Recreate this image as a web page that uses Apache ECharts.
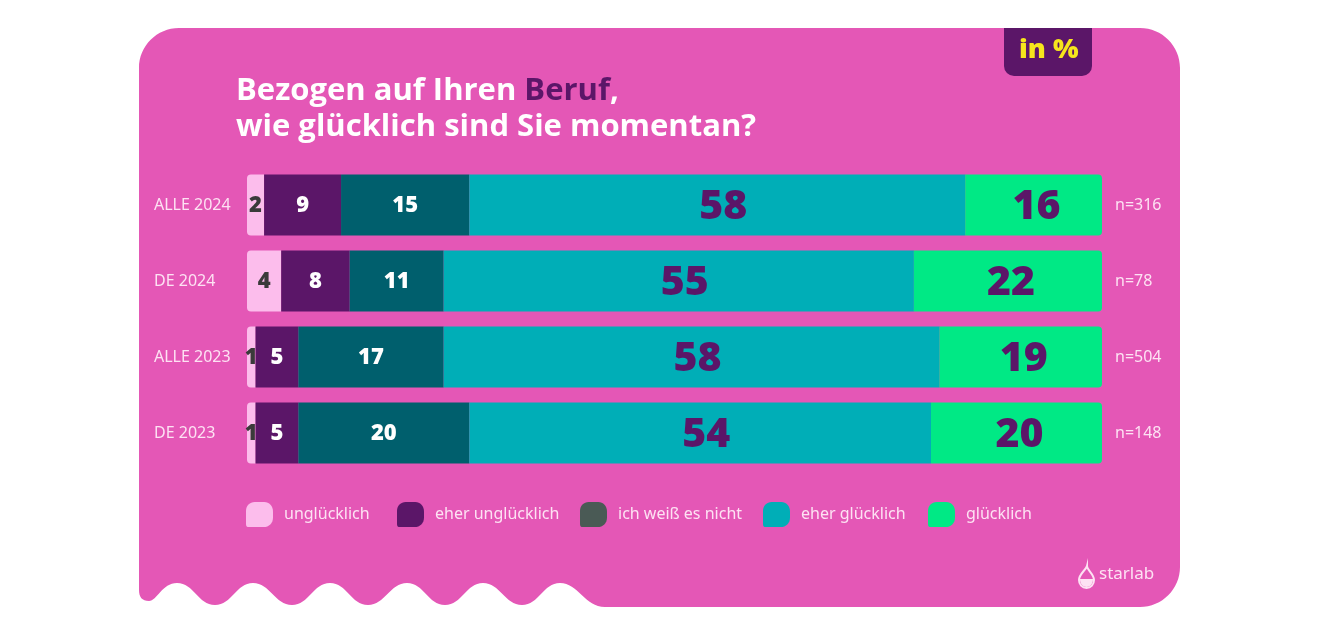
<!DOCTYPE html>
<html>
<head>
<meta charset="utf-8">
<script src="https://cdn.jsdelivr.net/npm/echarts@6/dist/echarts.min.js"></script>
<style>
html,body{margin:0;padding:0;background:#fff;}
#chart{width:1320px;height:636px;}
</style>
</head>
<body>
<div id="chart"></div>
<script>
// ---- data ----
const categories = ['ALLE 2024', 'DE 2024', 'ALLE 2023', 'DE 2023'];
const sampleSizes = ['n=316', 'n=78', 'n=504', 'n=148'];
const seriesNames = ['unglücklich', 'eher unglücklich', 'ich weiß es nicht', 'eher glücklich', 'glücklich'];
const unhappy = [2, 4, 1, 1];
const ratherUnhappy = [9, 8, 5, 5];
const dontKnow = [15, 11, 17, 20];
const ratherHappy = [58, 55, 58, 54];
const happy = [16, 22, 19, 20];

// ---- styles ----
const PINK = '#e457b6';
const PURPLE = '#5b1668';
const LIGHT = '#fde2f3';
const barColors = ['#fcbdec', '#5b1668', '#005f6d', '#00aeb7', '#00e985'];
const legendColors = ['#fcbdec', '#5b1668', '#4a5a55', '#00aeb7', '#00e985'];
const labelStyles = [
  {color: '#3a3a3a', fontSize: 22, offset: [0, 1]},
  {color: '#ffffff', fontSize: 22, offset: [0, 1]},
  {color: '#ffffff', fontSize: 22, offset: [0, 1]},
  {color: PURPLE, fontSize: 41, offset: [6, 2]},
  {color: PURPLE, fontSize: 41, offset: [3, 2]}
];
const values = [unhappy, ratherUnhappy, dontKnow, ratherHappy, happy];
const legendLefts = [246, 397, 580, 763, 928];

// card path (background shape)
function cardPath() {
  const L = 139, R = 1180, T = 28, B = 607, r = 40, k = 0.5523 * r;
  const crestY = 583, troughY = 605;
  const crests = [560, 483, 407, 330, 253, 177];
  const troughs = [522, 445, 368, 292, 215];
  let p = `M${L},${T + r} C${L},${T + r - k} ${L + r - k},${T} ${L + r},${T}`;
  p += ` L${R - r},${T} C${R - r + k},${T} ${R},${T + r - k} ${R},${T + r}`;
  p += ` L${R},${B - r} C${R},${B - r + k} ${R - r + k},${B} ${R - r},${B}`;
  p += ` L605,${B} C585,${B} 578,${crestY} ${crests[0]},${crestY}`;
  for (let i = 0; i < troughs.length; i++) {
    const c = crests[i], t = troughs[i], c2 = crests[i + 1];
    p += ` C${c - 17},${crestY} ${t + 17},${troughY} ${t},${troughY}`;
    p += ` C${t - 17},${troughY} ${c2 + 17},${crestY} ${c2},${crestY}`;
  }
  p += ` C162,${crestY} 157,601 149,601 C142,601 ${L},597 ${L},590 Z`;
  return p;
}
const dropOutline = 'M1087,566 C1087,570 1094,574 1094,580 C1094,584.5 1091,588 1086.5,588 C1082,588 1079,584.5 1079,580 C1079,574 1086,570 1087,566 Z';
const dropFill = 'M1080,579 L1093,579 C1093,584 1090,587 1086.5,587 C1083,587 1080,584 1080,579 Z';

const legendIcon = 'path://M9,0 L19,0 C24,0 28,4 28,10 L28,16 C28,22 24,26 18,26 L3,26 C1,26 0,25 0,23 L0,9 C0,4 4,0 9,0 Z';

const chart = echarts.init(document.getElementById('chart'), null, {renderer: 'canvas'});

const barSeries = seriesNames.map((name, i) => ({
  name: name,
  type: 'bar',
  stack: 'total',
  barWidth: 61,
  data: values[i],
  itemStyle: {
    color: barColors[i],
    borderRadius: i === 0 ? [4, 0, 0, 4] : (i === 4 ? [0, 4, 4, 0] : 0)
  },
  label: {
    show: true,
    position: 'inside',
    formatter: '{c}',
    offset: labelStyles[i].offset,
    fontFamily: 'Open Sans',
    fontWeight: 800,
    fontSize: labelStyles[i].fontSize,
    color: labelStyles[i].color
  },
  emphasis: {disabled: true},
  z: 5
}));

const bgSeries = {
  type: 'custom',
  name: 'bg',
  coordinateSystem: 'none',
  silent: true,
  z: 0,
  data: [0],
  renderItem: function () {
    return {
      type: 'group',
      children: [
        {type: 'path', shape: {pathData: cardPath()}, style: {fill: PINK}},
        {type: 'path', shape: {pathData: dropOutline}, style: {fill: 'none', stroke: LIGHT, lineWidth: 2}},
        {type: 'path', shape: {pathData: dropFill}, style: {fill: LIGHT}}
      ]
    };
  }
};

const legends = seriesNames.map((name, i) => ({
  left: legendLefts[i],
  top: 502,
  padding: 0,
  itemWidth: 27,
  itemHeight: 26,
  icon: legendIcon,
  selectedMode: false,
  data: [{name: name, itemStyle: {color: legendColors[i]}}],
  textStyle: {color: LIGHT, fontSize: 16, fontFamily: 'Noto Sans', padding: [0, 0, 0, 6]}
}));

const option = {
  animation: false,
  backgroundColor: '#ffffff',
  graphic: [
    {type: 'rect', z: 10, shape: {x: 1004, y: 28, width: 88, height: 48, r: [0, 0, 10, 10]}, style: {fill: PURPLE}},
    {type: 'text', z: 11, left: 1019, top: 37, style: {text: 'in %', fill: '#f6e51c', fontSize: 27, fontWeight: 800, fontFamily: 'Open Sans'}},
    {type: 'text', z: 11, left: 236, top: 76, style: {
      text: '{w|Bezogen auf Ihren }{p|Beruf}{w|,}\n{w|wie glücklich sind Sie momentan?}',
      rich: {
        w: {fill: '#ffffff', fontSize: 31, fontWeight: 'bold', fontFamily: 'Open Sans', lineHeight: 36},
        p: {fill: PURPLE, fontSize: 31, fontWeight: 'bold', fontFamily: 'Open Sans', lineHeight: 36}
      }
    }},
    {type: 'text', z: 11, left: 1099, top: 566, style: {text: 'starlab', fill: LIGHT, fontSize: 17, fontFamily: 'Noto Sans'}}
  ],
  legend: legends,
  grid: {left: 247, right: 218, top: 167, height: 304, containLabel: false},
  xAxis: {type: 'value', min: 0, max: 100, show: false},
  yAxis: [
    {
      type: 'category', data: categories, inverse: true,
      axisLine: {show: false}, axisTick: {show: false}, splitLine: {show: false},
      axisLabel: {align: 'left', margin: 93, color: LIGHT, fontSize: 16, fontFamily: 'Noto Sans', padding: [3, 0, 0, 0]}
    },
    {
      type: 'category', data: sampleSizes, inverse: true, position: 'right',
      axisLine: {show: false}, axisTick: {show: false}, splitLine: {show: false},
      axisLabel: {align: 'left', margin: 13, color: LIGHT, fontSize: 16, fontFamily: 'Noto Sans', padding: [3, 0, 0, 0]}
    }
  ],
  series: [bgSeries].concat(barSeries)
};
chart.setOption(option);
</script>
</body>
</html>
